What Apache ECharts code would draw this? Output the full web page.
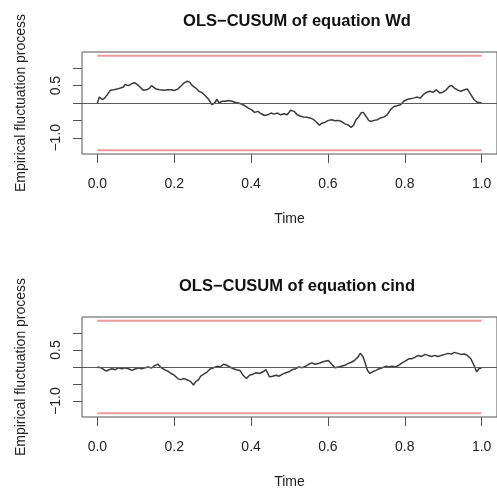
<!DOCTYPE html>
<html>
<head>
    <meta http-equiv="Content-Type" content="text/html; charset=UTF-8">
    <script type="text/javascript" src="https://cdn.jsdelivr.net/npm/echarts@6/dist/echarts.min.js" charset="utf-8"></script>
    <style>
        html, body { margin: 0; padding: 0; background: #fff; }
        #main { width: 497px; height: 490px; }
    </style>
</head>
<body>
<div id="main"></div>
<script>
    // 数据: 时间 (0..1) 与经验波动过程
    var timeWd = [0, .005, .009, .013, .019, .026, .034, .043, .051, .060, .068, .072, .081, .090, .098, .104, .111, .119, .128, .136,
        .141, .145, .153, .162, .175, .183, .192, .200, .209, .217, .226, .234, .240, .247, .256, .264, .273, .281, .290, .298,
        .305, .311, .317, .324, .332, .341, .350, .358, .367, .375, .384, .392, .401, .409, .418, .426, .435, .443, .452, .460,
        .469, .477, .486, .494, .503, .512, .520, .529, .537, .546, .554, .563, .571, .578, .584, .592, .601, .610, .618, .627,
        .635, .644, .652, .661, .667, .673, .680, .686, .692, .699, .706, .712, .720, .729, .737, .746, .754, .763, .772, .780,
        .789, .797, .806, .814, .823, .831, .840, .848, .857, .865, .874, .882, .891, .899, .908, .916, .922, .929, .938, .946,
        .955, .963, .972, .980, .989, 1.0];
    var cusumWd = [0, 0.17, 0.19, 0.10, 0.14, 0.24, 0.37, 0.38, 0.40, 0.43, 0.46, 0.53, 0.50, 0.56, 0.58, 0.53, 0.46, 0.37, 0.38, 0.43,
        0.50, 0.46, 0.40, 0.38, 0.37, 0.38, 0.38, 0.36, 0.40, 0.48, 0.58, 0.625, 0.60, 0.50, 0.43, 0.34, 0.29, 0.21, 0.10, -0.05,
        0, 0.10, 0, 0.05, 0.05, 0.07, 0.05, 0.02, 0, -0.03, -0.08, -0.14, -0.19, -0.27, -0.24, -0.31, -0.36, -0.34, -0.29, -0.32,
        -0.29, -0.34, -0.31, -0.34, -0.21, -0.24, -0.34, -0.38, -0.40, -0.41, -0.43, -0.48, -0.56, -0.64, -0.58, -0.56, -0.50, -0.48, -0.51, -0.50,
        -0.53, -0.60, -0.63, -0.70, -0.63, -0.48, -0.40, -0.29, -0.27, -0.38, -0.50, -0.53, -0.50, -0.48, -0.43, -0.40, -0.34, -0.19, -0.10, -0.08,
        -0.05, 0.05, 0.10, 0.12, 0.14, 0.17, 0.14, 0.24, 0.31, 0.34, 0.31, 0.38, 0.29, 0.31, 0.38, 0.48, 0.50, 0.43, 0.37, 0.34,
        0.38, 0.40, 0.24, 0.10, 0.02, 0];

    var timeCind = [0, .009, .017, .024, .030, .038, .047, .055, .064, .072, .081, .090, .098, .107, .115, .124, .132, .141, .149, .158,
        .166, .175, .183, .192, .200, .209, .217, .226, .234, .243, .250, .256, .263, .269, .277, .286, .294, .303, .311, .320,
        .328, .337, .345, .354, .362, .371, .379, .388, .396, .405, .413, .422, .431, .439, .448, .456, .465, .473, .482, .490,
        .499, .507, .516, .524, .533, .541, .550, .558, .567, .575, .584, .592, .601, .610, .618, .627, .635, .644, .652, .661,
        .669, .678, .684, .691, .697, .703, .709, .716, .725, .733, .742, .750, .759, .767, .776, .784, .793, .801, .810, .818,
        .827, .835, .844, .853, .861, .870, .878, .887, .895, .904, .912, .921, .929, .938, .946, .955, .963, .972, .980, .987,
        .993, 1.0];
    var cusumCind = [0, -0.02, -0.08, -0.12, -0.08, -0.05, -0.08, -0.02, -0.05, -0.02, -0.05, -0.10, -0.06, -0.02, -0.05, -0.02, 0, -0.03, 0.04, 0.08,
        -0.02, -0.08, -0.12, -0.19, -0.24, -0.34, -0.37, -0.34, -0.38, -0.43, -0.53, -0.43, -0.38, -0.27, -0.21, -0.14, -0.05, -0.02, 0.02, 0,
        0.08, 0.05, 0, -0.05, -0.08, -0.10, -0.24, -0.34, -0.24, -0.21, -0.17, -0.19, -0.14, -0.08, -0.29, -0.27, -0.24, -0.27, -0.21, -0.17,
        -0.14, -0.08, -0.05, 0, -0.02, 0.02, 0.08, 0.12, 0.08, 0.10, 0.14, 0.17, 0.19, 0.08, -0.02, 0, 0.02, 0.05, 0.10, 0.14,
        0.19, 0.29, 0.40, 0.31, 0.12, -0.10, -0.19, -0.14, -0.10, -0.05, -0.02, 0.02, 0, 0.02, 0, 0.05, 0.12, 0.17, 0.24, 0.24,
        0.29, 0.34, 0.31, 0.37, 0.34, 0.31, 0.34, 0.31, 0.34, 0.37, 0.40, 0.38, 0.43, 0.40, 0.37, 0.38, 0.34, 0.24, 0.05, -0.14,
        -0.05, -0.02];

    var boundary = 1.358;          // 5% 临界值
    var xTicks = [0, 0.2, 0.4, 0.6, 0.8, 1.0];
    var yTicks = [-1, -0.5, 0, 0.5, 1];
    var yLabels = [-1, 0.5];
    var titles = ['OLS\u2212CUSUM of equation Wd', 'OLS\u2212CUSUM of equation cind'];

    var FONT = 'Liberation Sans, Arial, Helvetica, sans-serif';
    var tops = [52, 317];

    function pairs(xs, ys) {
        var out = [];
        for (var i = 0; i < xs.length; i++) out.push([xs[i], ys[i]]);
        return out;
    }

    var grids = [], xAxes = [], yAxes = [], series = [], titleArr = [];
    var curves = [pairs(timeWd, cusumWd), pairs(timeCind, cusumCind)];

    for (var k = 0; k < 2; k++) {
        titleArr.push({
            text: titles[k], left: 292, top: tops[k] - 44, textAlign: 'center',
            textStyle: { fontFamily: FONT, fontSize: 16.5, fontWeight: 'bold', color: '#111' }
        });
        grids.push({
            left: 82, top: tops[k], width: 421, height: 102,
            show: true, borderColor: '#555', borderWidth: 1, backgroundColor: 'transparent'
        });
        xAxes.push({
            type: 'value', gridIndex: k, min: -0.04, max: 1.04,
            name: 'Time', nameLocation: 'middle', nameGap: 58,
            nameTextStyle: { fontFamily: FONT, fontSize: 14, color: '#222' },
            axisLine: { show: false, onZero: false },
            axisTick: { show: true, customValues: xTicks, length: 9, lineStyle: { color: '#555' } },
            axisLabel: {
                customValues: xTicks, margin: 23,
                fontFamily: FONT, fontSize: 14, color: '#222',
                formatter: function (v) { return v.toFixed(1); }
            },
            splitLine: { show: false }
        });
        yAxes.push({
            type: 'value', gridIndex: k, min: -1.467, max: 1.467,
            name: 'Empirical fluctuation process', nameLocation: 'middle', nameGap: 54, nameRotate: 90,
            nameTextStyle: { fontFamily: FONT, fontSize: 14, color: '#222' },
            axisLine: { show: false, onZero: false },
            axisTick: { show: true, customValues: yTicks, length: 9, lineStyle: { color: '#555' } },
            axisLabel: {
                customValues: yLabels, rotate: 90, margin: 19,
                fontFamily: FONT, fontSize: 14, color: '#222',
                formatter: function (v) { return (v < 0 ? '\u2212' : '') + Math.abs(v).toFixed(1); }
            },
            splitLine: { show: false }
        });
        series.push({
            type: 'line', xAxisIndex: k, yAxisIndex: k, data: curves[k],
            showSymbol: false, silent: true,
            lineStyle: { color: '#3a3a3a', width: 1.5 },
            markLine: {
                silent: true, symbol: 'none', label: { show: false },
                lineStyle: { color: '#5a5a5a', width: 1.2, type: 'solid' },
                data: [{ yAxis: 0 }]
            }
        });
        series.push({
            type: 'line', xAxisIndex: k, yAxisIndex: k, data: [[0, boundary], [1, boundary]],
            showSymbol: false, silent: true, lineStyle: { color: '#ea9a9a', width: 2 }
        });
        series.push({
            type: 'line', xAxisIndex: k, yAxisIndex: k, data: [[0, -boundary], [1, -boundary]],
            showSymbol: false, silent: true, lineStyle: { color: '#ea9a9a', width: 2 }
        });
    }

    var myChart = echarts.init(document.getElementById('main'));
    myChart.setOption({
        animation: false,
        backgroundColor: '#fff',
        title: titleArr,
        grid: grids,
        xAxis: xAxes,
        yAxis: yAxes,
        series: series
    });
</script>
</body>
</html>
